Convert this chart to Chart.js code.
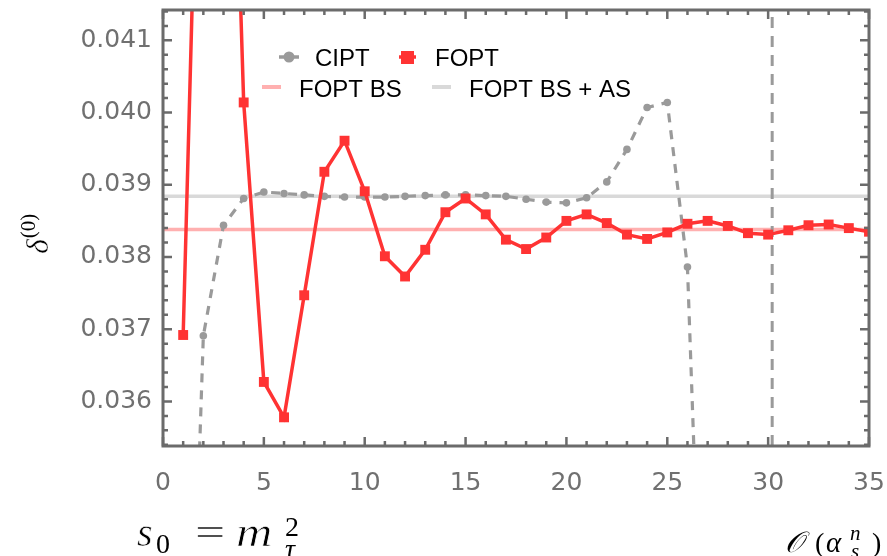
<!DOCTYPE html>
<html>
<head>
<meta charset="utf-8">
<script src="https://cdn.jsdelivr.net/npm/chart.js@4.4.0/dist/chart.umd.min.js"></script>
<style>
  html, body { margin: 0; padding: 0; background: #fff; }
  #wrap { width: 887px; height: 556px; }
</style>
</head>
<body>
<div id="wrap"><canvas id="chart" width="887" height="556"></canvas></div>
<script>
// perturbative order n
const foptOrders = [1, 2, 3, 4, 5, 6, 7, 8, 9, 10, 11, 12, 13, 14, 15, 16, 17, 18,
  19, 20, 21, 22, 23, 24, 25, 26, 27, 28, 29, 30, 31, 32, 33, 34, 35];
const foptValues = [0.03692, 0.0472, 0.0490, 0.04014, 0.03627, 0.03578, 0.03747,
  0.03918, 0.03961, 0.03891, 0.03801, 0.03773, 0.03810, 0.03862, 0.03881, 0.03859,
  0.03824, 0.03811, 0.03827, 0.03850, 0.03859, 0.03847, 0.03831, 0.03825, 0.03834,
  0.03846, 0.03850, 0.03843, 0.03833, 0.03831, 0.03837, 0.03844, 0.03845, 0.03840,
  0.03835];
const ciptOrders = [1, 2, 3, 4, 5, 6, 7, 8, 9, 10, 11, 12, 13, 14, 15, 16, 17, 18,
  19, 20, 21, 22, 23, 24, 25, 26, 27];
const ciptValues = [0.0285, 0.03691, 0.03844, 0.03881, 0.03890, 0.03888, 0.03886,
  0.03884, 0.03883, 0.03883, 0.03883, 0.03884, 0.03885, 0.03886, 0.03886, 0.03885,
  0.03884, 0.03880, 0.03876, 0.03875, 0.03882, 0.03904, 0.03949, 0.04007, 0.04014,
  0.03786, 0.0300];
const foptBS = 0.03838;
const foptBSAS = 0.03884;
const cutOrder = 30.2;

const xRange = [0, 35];
const yRange = [0.035383, 0.04142];
const xTicks = [0, 5, 10, 15, 20, 25, 30, 35];
const yTicks = [0.036, 0.037, 0.038, 0.039, 0.040, 0.041];

const RED = '#ff3333';
const GRAY = '#9a9a9a';
const PINK = '#ffb0b0';
const LIGHT = '#d9d9d9';
const AXIS = '#6b6b6b';

const toPoints = (xs, ys) => xs.map((x, i) => ({ x: x, y: ys[i] }));

// frame + inward ticks on all four sides
const frameTicks = {
  id: 'frameTicks',
  afterDatasetsDraw(chart) {
    const { ctx, chartArea: a, scales: { x, y } } = chart;
    ctx.save();
    ctx.strokeStyle = AXIS;
    ctx.lineWidth = 2.5;
    for (let i = 0; i <= 35; i++) {
      const px = x.getPixelForValue(i);
      const len = i % 5 === 0 ? 9 : 5;
      ctx.beginPath();
      ctx.moveTo(px, a.bottom); ctx.lineTo(px, a.bottom - len);
      ctx.moveTo(px, a.top); ctx.lineTo(px, a.top + len);
      ctx.stroke();
    }
    for (let i = 177; i <= 207; i++) {
      const py = y.getPixelForValue(i * 0.0002);
      const len = i % 5 === 0 ? 9 : 5;
      ctx.beginPath();
      ctx.moveTo(a.left, py); ctx.lineTo(a.left + len, py);
      ctx.moveTo(a.right, py); ctx.lineTo(a.right - len, py);
      ctx.stroke();
    }
    ctx.lineWidth = 3;
    ctx.strokeRect(a.left, a.top, a.right - a.left, a.bottom - a.top);
    ctx.restore();
  }
};

// two-row legend inside the plot
const legendBox = {
  id: 'legendBox',
  afterDraw(chart) {
    const ctx = chart.ctx;
    ctx.save();
    ctx.font = '24px "Liberation Sans", Arial, sans-serif';
    ctx.fillStyle = '#000';
    ctx.textBaseline = 'alphabetic';

    // CIPT
    ctx.strokeStyle = GRAY; ctx.lineWidth = 3.5;
    ctx.beginPath(); ctx.moveTo(279, 57); ctx.lineTo(299, 57); ctx.stroke();
    ctx.fillStyle = GRAY;
    ctx.beginPath(); ctx.arc(289, 57, 5.5, 0, Math.PI * 2); ctx.fill();
    ctx.fillStyle = '#000'; ctx.fillText('CIPT', 315, 66);

    // FOPT
    ctx.strokeStyle = RED;
    ctx.beginPath(); ctx.moveTo(399, 57); ctx.lineTo(416, 57); ctx.stroke();
    ctx.fillStyle = RED; ctx.fillRect(401, 51, 13, 13);
    ctx.fillStyle = '#000'; ctx.fillText('FOPT', 435, 66);

    // horizontal reference lines
    ctx.lineWidth = 4;
    ctx.strokeStyle = PINK;
    ctx.beginPath(); ctx.moveTo(262, 87); ctx.lineTo(281, 87); ctx.stroke();
    ctx.fillText('FOPT BS', 299, 97);
    ctx.strokeStyle = LIGHT;
    ctx.beginPath(); ctx.moveTo(432, 87); ctx.lineTo(451, 87); ctx.stroke();
    ctx.fillText('FOPT BS + AS', 469, 97);
    ctx.restore();
  }
};

// axis labels typeset by hand (large glyphs slightly thinned)
const mathLabels = {
  id: 'mathLabels',
  afterDraw(chart) {
    const ctx = chart.ctx;
    const serif = '"Liberation Serif", serif';
    const put = (t, font, x, y, sx, thin) => {
      ctx.save();
      ctx.translate(x, y);
      if (sx) ctx.scale(sx, 1);
      ctx.font = font;
      ctx.fillText(t, 0, 0);
      if (thin) {
        ctx.lineWidth = thin;
        ctx.strokeText(t, 0, 0);
      }
      ctx.restore();
    };
    ctx.save();
    ctx.fillStyle = '#000';
    ctx.strokeStyle = '#fff';
    ctx.textBaseline = 'alphabetic';

    // s_0 = m_tau^2
    put('s', 'italic 40px ' + serif, 137, 546, 0, 0.6);
    put('0', '28px ' + serif, 156, 553);
    put('=', '40px ' + serif, 195, 546, 1.35, 0.5);
    put('m', 'italic 42px ' + serif, 236, 546, 1.2, 0.7);
    put('2', '28px ' + serif, 285, 536);
    put('\u03c4', 'italic 28px ' + serif, 285, 558);

    // O(alpha_s^n)
    put('\ud835\udcaa', 'italic 29px ' + serif, 785, 552);
    put('(', '28px ' + serif, 815, 552);
    put('\u03b1', 'italic 29px ' + serif, 826, 552);
    put('n', 'italic 21px ' + serif, 850, 540);
    put('s', 'italic 21px ' + serif, 851, 558);
    put(')', '28px ' + serif, 872, 552);

    // delta^(0), rotated
    ctx.translate(48, 254);
    ctx.rotate(-Math.PI / 2);
    put('\u03b4', 'italic 32px ' + serif, 0, 0, 0, 0.4);
    ctx.font = 'italic 32px ' + serif;
    const w = ctx.measureText('\u03b4').width;
    put('(0)', '21px ' + serif, w + 1, -13);
    ctx.restore();
  }
};

const ctx = document.getElementById('chart').getContext('2d');
new Chart(ctx, {
  type: 'line',
  data: {
    datasets: [
      {
        label: 'FOPT',
        data: toPoints(foptOrders, foptValues),
        borderColor: RED,
        backgroundColor: RED,
        borderWidth: 3.5,
        pointStyle: 'rect',
        pointRadius: 7,
        pointBorderWidth: 0,
        pointBackgroundColor: RED,
        clip: 0,
        order: 0
      },
      {
        label: 'CIPT',
        data: toPoints(ciptOrders, ciptValues),
        borderColor: GRAY,
        backgroundColor: GRAY,
        borderWidth: 3.2,
        borderDash: [9, 8],
        pointStyle: 'circle',
        pointRadius: 3.8,
        pointBorderWidth: 0,
        pointBackgroundColor: GRAY,
        clip: 0,
        order: 1
      },
      {
        label: 'cut',
        data: toPoints([cutOrder, cutOrder], yRange),
        borderColor: GRAY,
        borderWidth: 3,
        borderDash: [11, 8],
        pointRadius: 0,
        clip: 0,
        order: 2
      },
      {
        label: 'FOPT BS + AS',
        data: toPoints(xRange, [foptBSAS, foptBSAS]),
        borderColor: LIGHT,
        borderWidth: 3.5,
        pointRadius: 0,
        clip: 0,
        order: 3
      },
      {
        label: 'FOPT BS',
        data: toPoints(xRange, [foptBS, foptBS]),
        borderColor: PINK,
        borderWidth: 3.5,
        pointRadius: 0,
        clip: 0,
        order: 4
      }
    ]
  },
  options: {
    responsive: false,
    animation: false,
    devicePixelRatio: 1,
    layout: { padding: { top: 10, right: 18, left: 0, bottom: 0 } },
    plugins: {
      legend: { display: false },
      tooltip: { enabled: false }
    },
    elements: { line: { tension: 0 } },
    scales: {
      x: {
        type: 'linear',
        min: xRange[0],
        max: xRange[1],
        grid: { display: false, drawTicks: false },
        border: { display: false },
        afterFit: s => {
          s.height = 110;
          s.paddingLeft = 0;
          s.paddingRight = 0;
        },
        afterBuildTicks: s => { s.ticks = xTicks.map(v => ({ value: v })); },
        ticks: {
          padding: 22,
          color: '#707070',
          font: { family: '"DejaVu Sans", sans-serif', size: 25 },
          maxRotation: 0
        }
      },
      y: {
        type: 'linear',
        min: yRange[0],
        max: yRange[1],
        grid: { display: false, drawTicks: false },
        border: { display: false },
        afterFit: s => {
          s.width = 163;
          s.paddingTop = 0;
          s.paddingBottom = 0;
        },
        afterBuildTicks: s => { s.ticks = yTicks.map(v => ({ value: v })); },
        ticks: {
          padding: 11,
          color: '#707070',
          font: { family: '"DejaVu Sans", sans-serif', size: 25 },
          callback: v => v.toFixed(3)
        }
      }
    }
  },
  plugins: [frameTicks, legendBox, mathLabels]
});
</script>
</body>
</html>
